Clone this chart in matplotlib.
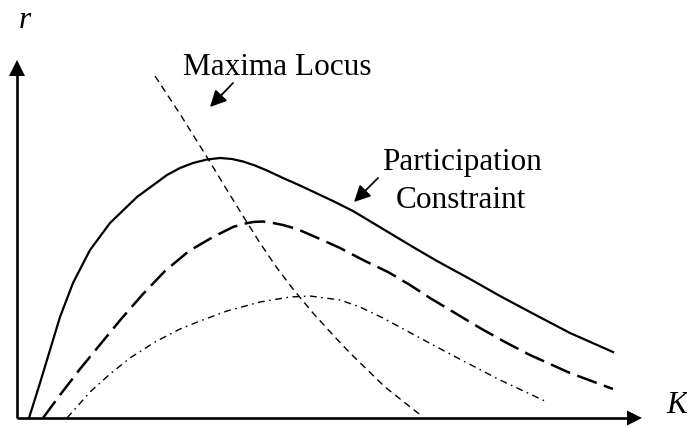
import matplotlib
matplotlib.use('Agg')
import matplotlib.pyplot as plt

plt.rcParams['font.family'] = ['Liberation Serif', 'DejaVu Serif']
plt.rcParams['lines.scale_dashes'] = False

# curves (K along the bottom axis, r up the left axis)
solid_k = [12, 23, 33, 43, 56, 73, 93, 120, 150, 163, 176, 190, 203, 215, 226, 238, 250,
           266, 283, 316, 336, 366, 396, 420, 453, 483, 513, 553, 596]
solid_r = [0, 35, 68, 101, 135, 168, 195, 221, 243, 250, 255, 258.5, 260, 259, 256.5, 252.5, 247.5,
           240, 232.5, 217, 207, 189, 171, 157, 139, 122, 106, 85, 66]

dashed_k = [26, 43, 63, 86, 105, 126, 148, 172, 196, 216, 226, 236, 246, 256, 266, 280, 303,
            323, 348, 371, 393, 413, 438, 463, 488, 513, 553, 596]
dashed_r = [0, 23, 49, 77, 100, 124, 147, 167, 181, 191, 194, 196, 196.5, 195, 193, 189, 179,
            170, 157, 146, 133, 120, 105, 90, 76, 63, 45, 29]

dashdot_k = [50, 73, 93, 113, 138, 163, 183, 210, 243, 273, 293, 323, 343, 366, 403, 433, 483, 530]
dashdot_r = [0, 26, 44, 60, 76, 89, 97, 107, 116, 121, 122, 118, 111, 100, 80, 64, 38, 16]

locus_k = [138, 163, 193, 210, 226, 243, 260, 276, 296, 316, 333, 368, 406]
locus_r = [342, 304, 256, 228, 202, 175, 150, 129, 105, 83, 65, 31, 1]

k_max = 625
r_max = 358

fig = plt.figure(figsize=(6.87, 4.28), dpi=100)
ax = fig.add_axes([0, 0, 1, 1])
ax.set_xlim(-17, 670)
ax.set_ylim(-10, 418)
ax.axis('off')

# axes with arrow heads
ax.plot([0, k_max - 14], [0, 0], color='black', lw=1.9, solid_capstyle='butt')
ax.plot([0, 0], [0, r_max - 14], color='black', lw=1.9, solid_capstyle='butt')
ax.fill([k_max - 15, k_max, k_max - 15], [-7.5, 0, 7.5], color='black', lw=0)
ax.fill([-8, 0, 8], [r_max - 16, r_max, r_max - 16], color='black', lw=0)

ax.plot(solid_k, solid_r, color='black', lw=1.6, solid_joinstyle='round')
ax.plot(dashed_k, dashed_r, color='black', lw=1.8, linestyle=(0, (15, 5.5)),
        dash_joinstyle='round')
ax.plot(dashdot_k, dashdot_r, color='black', lw=1.0, linestyle=(0, (5, 3.2, 1.2, 3.2)))
ax.plot(locus_k, locus_r, color='black', lw=1.0, linestyle=(0, (5, 3.5)))

fs = 22.5
ax.text(8, 390, 'r', fontsize=fs, style='italic', ha='center', va='baseline')
ax.text(660, 5, 'K', fontsize=fs, style='italic', ha='center', va='baseline')
ax.text(260, 343, 'Maxima Locus', fontsize=fs, ha='center', va='baseline')
ax.text(445, 248, 'Participation', fontsize=fs, ha='center', va='baseline')
ax.text(444, 210, 'Constraint', fontsize=fs, ha='center', va='baseline')

arrow = dict(arrowstyle='-|>,head_length=0.7,head_width=0.35', color='black', lw=1.3,
             mutation_scale=14, shrinkA=0, shrinkB=0)
ax.annotate('', xy=(193, 311), xytext=(216, 335), arrowprops=arrow)
ax.annotate('', xy=(337, 216), xytext=(361, 240), arrowprops=arrow)

fig.savefig('out.png', dpi=100)
